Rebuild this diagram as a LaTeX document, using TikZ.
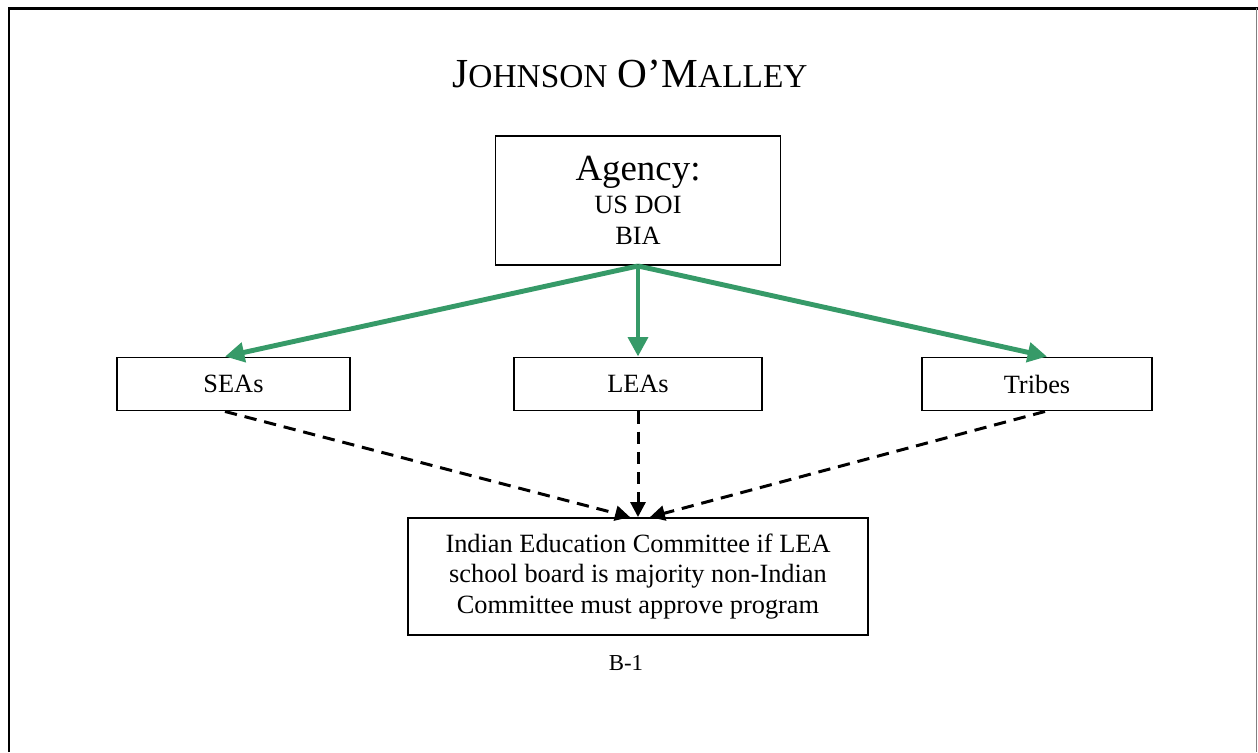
\documentclass[tikz,border=0pt]{standalone}
\usepackage{fontspec}
\setmainfont{Liberation Serif}
\usetikzlibrary{arrows.meta}
\definecolor{jomgreen}{RGB}{54,154,104}

\begin{document}
\begin{tikzpicture}[x=0.02cm, y=-0.02cm,
  box/.style={draw, line width=1.1pt, align=center, inner sep=0pt, font=\fontsize{15}{17.6}\selectfont},
  fund/.style={jomgreen, line width=2.8pt, -{Triangle[length=11pt,width=11pt]}},
  link/.style={line width=1.7pt, dash pattern=on 7pt off 4.5pt, -{Triangle[length=8.5pt,width=8.5pt]}}]

 \useasboundingbox (0,0) rectangle (1258,752);

 %frame
 \draw[line width=1.7pt] (9,752) -- (9,8) -- (1258,8);
 \draw[gray, line width=0.6pt] (1256.5,8) -- (1256.5,752);

 %title
 \node[anchor=base] (title) at (630,87) {\fontsize{23.5}{28}\selectfont J{\fontsize{19}{22}\selectfont OHNSON} O’M{\fontsize{19}{22}\selectfont ALLEY}};

 %level 0
 \node[box, minimum width=5.7cm, minimum height=2.58cm] (agency) at (638,200.5)
   {{\fontsize{21}{24}\selectfont Agency:}\\[1.5pt] US DOI\\ BIA};

 %level 1
 \foreach \x/\w/\name/\txt in {233.5/4.66/seas/SEAs, 638/4.96/leas/LEAs, 1037/4.6/tribes/Tribes} {
   \node[box, minimum width=\w cm, minimum height=1.06cm] (\name) at (\x,384) {\txt};
 }

 %level 2
 \node[box, minimum width=9.22cm, minimum height=2.34cm] (note) at (638,576.5)
   {Indian Education Committee if LEA\\ school board is majority non-Indian\\ Committee must approve program};

 \node[anchor=base, font=\fontsize{13}{15}\selectfont] (page) at (626,670) {B-1};

 %arrows
 \foreach \name/\dx in {seas/-0.17, leas/0, tribes/0.2} {
   \draw[fund] (agency.south) -- ([xshift=\dx cm]\name.north);
 }

 \draw[link] ([xshift=-0.17cm]seas.south) -- ([xshift=-0.16cm]note.north);
 \draw[link] (leas.south) -- (note.north);
 \draw[link] ([xshift=0.16cm]tribes.south) -- ([xshift=0.24cm]note.north);

\end{tikzpicture}
\end{document}
